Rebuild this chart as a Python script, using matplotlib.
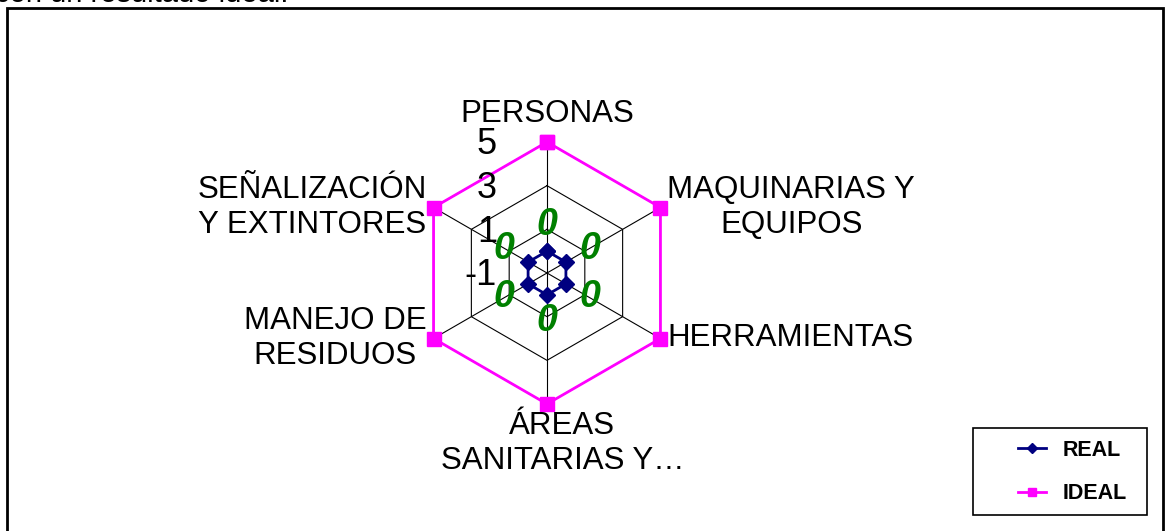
import numpy as np
import matplotlib.pyplot as plt
from matplotlib.patches import Rectangle

plt.rcParams['font.family'] = ['Liberation Sans', 'DejaVu Sans']

# datos
categorias = ['PERSONAS', 'MAQUINARIAS Y\nEQUIPOS', 'HERRAMIENTAS',
              'ÁREAS\nSANITARIAS Y…', 'MANEJO DE\nRESIDUOS', 'SEÑALIZACIÓN\nY EXTINTORES']
real = [0, 0, 0, 0, 0, 0]
ideal = [5, 5, 5, 5, 5, 5]
niveles = [-1, 1, 3, 5]

n = len(categorias)
ang = np.linspace(0, 2 * np.pi, n, endpoint=False)
ang_c = np.append(ang, ang[0])

fig = plt.figure(figsize=(11.71, 5.31), dpi=100)
fig.text(-0.004, 1 - 2 / 531, 'con un resultado ideal.', fontsize=21, ha='left', va='baseline')
fig.patches.append(Rectangle((7 / 1171, -0.1), 1156 / 1171, 1.1 - 8 / 531,
                             transform=fig.transFigure, fill=False, lw=2, ec='black'))

ax = fig.add_axes([416 / 1171, 127 / 531, 262 / 1171, 262 / 531], projection='polar')
ax.set_theta_zero_location('N')
ax.set_theta_direction(-1)
ax.set_ylim(-1, 5)
ax.grid(False)
ax.spines['polar'].set_visible(False)
ax.set_xticks([])
ax.set_yticks([])
ax.patch.set_alpha(0)

# rejilla hexagonal
for r in niveles[1:]:
    ax.plot(ang_c, [r] * (n + 1), color='black', lw=0.8, zorder=1)
for a in ang:
    ax.plot([a, a], [niveles[0], niveles[-1]], color='black', lw=0.8, zorder=1)

ax.plot(ang_c, ideal + ideal[:1], color='#FF00FF', lw=2, marker='s', ms=10.5,
        label='IDEAL', zorder=3, clip_on=False)
ax.plot(ang_c, real + real[:1], color='#000080', lw=2, marker='D', ms=8,
        label='REAL', zorder=4)

# etiquetas de valores
for a, v in zip(ang, real):
    ax.annotate(str(v), (a, v), xytext=(20 * np.sin(a), 19 * np.cos(a)),
                textcoords='offset points', ha='center', va='center',
                fontsize=27, color='#008000', style='italic', fontweight='bold')

# etiquetas de ejes
ali = [('center', 'bottom', 0, 9), ('left', 'center', 5, 0), ('left', 'center', 5, 0),
       ('center', 'top', 11, -5), ('right', 'center', -5, 0), ('right', 'center', -5, 0)]
for a, cat, (ha, va, dx, dy) in zip(ang, categorias, ali):
    ax.annotate(cat, (a, 5), xytext=(dx, dy), textcoords='offset points',
                ha=ha, va=va, multialignment='center', fontsize=22.5,
                linespacing=1.22, annotation_clip=False)

for r in niveles:
    ax.annotate(str(r), (0, r), xytext=(-36, -2), textcoords='offset points',
                ha='right', va='center', fontsize=26)

# leyenda
fig.patches.append(Rectangle((973 / 1171, 16 / 531), 174 / 1171, 87 / 531,
                             transform=fig.transFigure, fill=False, lw=1.2, ec='black'))
h, l = ax.get_legend_handles_labels()
leg = fig.legend(h[::-1], l[::-1], loc='center left', bbox_to_anchor=(1018 / 1171, 59 / 531),
                 prop={'weight': 'bold', 'size': 15.5}, frameon=False,
                 handlelength=1.3, labelspacing=1.05, borderpad=0, markerscale=0.6,
                 borderaxespad=0, handletextpad=0.75)
plt.savefig('out.png', dpi=100)
